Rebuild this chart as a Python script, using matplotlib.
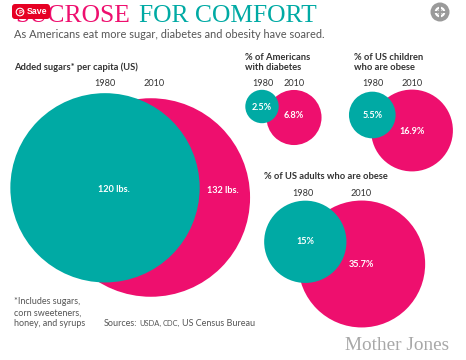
import matplotlib
matplotlib.use('Agg')
import numpy as np
import matplotlib.pyplot as plt
from matplotlib.patches import Circle, FancyBboxPatch

# values as printed on the chart
sugar_values = [120, 132]
diabetes_values = [2.5, 6.8]
children_values = [5.5, 16.9]
adults_values = [15, 35.7]
sugar_labels = ['120 lbs.', '132 lbs.']
diabetes_labels = ['2.5%', '6.8%']
children_labels = ['5.5%', '16.9%']
adults_labels = ['15%', '35.7%']
years = ['1980', '2010']

TEAL = '#00aaa4'
PINK = '#ee0f6e'
DARK = '#333333'
GREY = '#555555'
FONT = 'Lato'

fig = plt.figure(figsize=(4.66, 3.6), dpi=100)
ax = fig.add_axes([0, 0, 1, 1])
ax.set_xlim(0, 466)
ax.set_ylim(360, 0)
ax.axis('off')


# circle area goes with the value, k is px per sqrt(value)
def pair(values, labels, k, c1, c2, lab1, lab2, year1, year2):
    r1 = k * np.sqrt(values[0])
    r2 = k * np.sqrt(values[1])
    ax.add_patch(Circle(c2, r2, fc=PINK, ec='none', zorder=2))
    ax.add_patch(Circle(c1, r1, fc=TEAL, ec='none', zorder=3))
    ax.text(lab1[0], lab1[1], labels[0], color='white', fontsize=6.6, weight='bold',
            family=FONT, ha='center', va='center', zorder=4)
    ax.text(lab2[0], lab2[1], labels[1], color='white', fontsize=6.6, weight='bold',
            family=FONT, ha='center', va='center', zorder=4)
    ax.text(year1[0], year1[1], years[0], color=DARK, fontsize=6.6,
            family=FONT, ha='center', va='center')
    ax.text(year2[0], year2[1], years[1], color=DARK, fontsize=6.6,
            family=FONT, ha='center', va='center')


pair(sugar_values, sugar_labels, 8.64, (105, 187.8), (150.8, 197.5),
     (114, 189.5), (223, 190.5), (105, 83.5), (154, 83.5))
pair(diabetes_values, diabetes_labels, 10.56, (262, 106.5), (294, 117.5),
     (262, 107.5), (294, 116), (262.5, 83.5), (294.5, 83.5))
pair(children_values, children_labels, 9.95, (372.3, 115), (412, 130.5),
     (372.5, 115.5), (412, 131), (372.5, 83.5), (412.5, 83))
pair(adults_values, adults_labels, 10.62, (305.3, 241.8), (361.7, 264),
     (305.5, 242), (361, 264.5), (303, 194), (361.5, 194))

# titulos
ax.text(15, 15.5, 'SUCROSE', color=PINK, fontsize=18.4, family='Liberation Serif',
        ha='left', va='center')
ax.text(139, 15.5, 'FOR COMFORT', color=TEAL, fontsize=18.4, family='Liberation Serif',
        ha='left', va='center')
ax.text(14, 34.5, 'As Americans eat more sugar, diabetes and obesity have soared.',
        color=GREY, fontsize=7.9, family=FONT, ha='left', va='center')

ax.text(14.5, 67.5, 'Added sugars* per capita (US)', color=DARK, fontsize=6.75,
        weight='bold', family=FONT, ha='left', va='center')
ax.text(245, 57, '% of Americans', color=DARK, fontsize=6.75, weight='bold',
        family=FONT, ha='left', va='center')
ax.text(245, 67.5, 'with diabetes', color=DARK, fontsize=6.75, weight='bold',
        family=FONT, ha='left', va='center')
ax.text(354.5, 57, '% of US children', color=DARK, fontsize=6.75, weight='bold',
        family=FONT, ha='left', va='center')
ax.text(354.5, 67.5, 'who are obese', color=DARK, fontsize=6.75, weight='bold',
        family=FONT, ha='left', va='center')
ax.text(264.5, 176.5, '% of US adults who are obese', color=DARK, fontsize=6.75,
        weight='bold', family=FONT, ha='left', va='center')

# notas
for y, line in zip([302, 313, 323.5], ['*Includes sugars,', 'corn sweeteners,', 'honey, and syrups']):
    ax.text(14.5, y, line, color=GREY, fontsize=6.5, family=FONT, ha='left', va='center')

ax.text(104, 323.5, 'Sources:', color=GREY, fontsize=6.5, family=FONT, ha='left', va='center')
ax.text(139, 323.8, 'USDA,', color=GREY, fontsize=5.4, family=FONT, ha='left', va='center')
ax.text(163, 323.8, 'CDC,', color=GREY, fontsize=5.4, family=FONT, ha='left', va='center')
ax.text(181.5, 323.5, 'US Census Bureau', color=GREY, fontsize=6.45, family=FONT, ha='left', va='center')

ax.text(345, 345, 'Mother Jones', color='#a8a8a8', fontsize=13.9, family='Liberation Serif',
        ha='left', va='center')

# boton de Pinterest y el icono de arriba
ax.add_patch(FancyBboxPatch((14, 6), 34, 11, boxstyle='round,pad=2,rounding_size=3',
                            fc='#e60023', ec='none', zorder=6))
ax.add_patch(Circle((20, 12), 3.8, fc='none', ec='white', lw=0.8, zorder=7))
ax.text(20, 12, 'P', color='white', fontsize=4.5, weight='bold', family=FONT,
        ha='center', va='center', zorder=7)
ax.text(27, 12, 'Save', color='white', fontsize=6.3, weight='bold', family='Liberation Sans',
        ha='left', va='center', zorder=7)

ax.add_patch(Circle((440, 12), 9.5, fc='#9a9a9a', ec='none'))
ax.add_patch(Circle((440, 12), 4.2, fc='none', ec='white', lw=1.6))
ax.plot([434, 446], [12, 12], color='#9a9a9a', lw=1.4, solid_capstyle='butt')
ax.plot([440, 440], [6, 18], color='#9a9a9a', lw=1.4, solid_capstyle='butt')
ax.add_patch(Circle((440, 12), 2.2, fc='white', ec='none'))

fig.savefig('out.png', dpi=100)
